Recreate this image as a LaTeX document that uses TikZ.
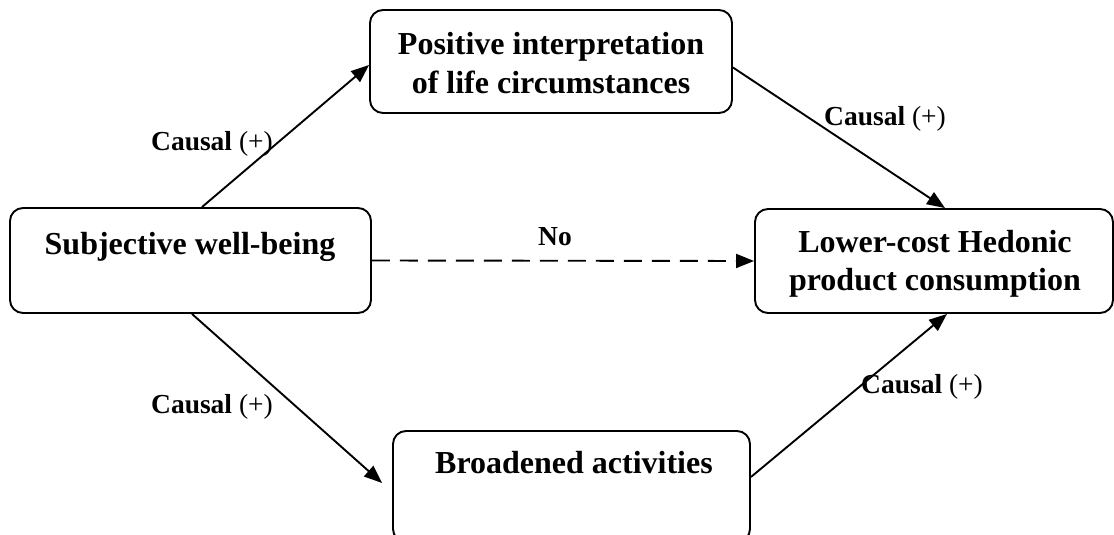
\documentclass[tikz,border=0pt]{standalone}
\usepackage{fontspec}
\setmainfont{Liberation Serif}
\usetikzlibrary{arrows.meta}
\begin{document}
\begin{tikzpicture}[x=1pt,y=-1pt,
  box/.style={draw, line width=1.9pt, rounded corners=13pt, inner sep=0pt},
  btext/.style={font=\fontsize{32}{36}\selectfont\bfseries, anchor=base, inner sep=0pt},
  lbl/.style={font=\fontsize{27.5}{30}\selectfont, anchor=base, inner sep=0pt},
  arr/.style={line width=1.9pt, -{Triangle[length=18pt,width=14pt]}},
  darr/.style={arr, dash pattern=on 18pt off 10pt},
]
\clip (0,0) rectangle (1114,535);
% boxes
\node[box, minimum width=361pt, minimum height=105pt] (L) at (190.5,260.5) {};
\node[box, minimum width=362pt, minimum height=103pt] (T) at (551,61.5) {};
\node[box, minimum width=358pt, minimum height=104pt] (R) at (934,261) {};
\node[box, minimum width=357pt, minimum height=111pt] (B) at (571.5,486.5) {};
% box texts
\node[btext] (Lt) at (190,254) {Subjective well-being};
\node[btext] (Tt1) at (551,55) {Positive interpretation};
\node[btext] (Tt2) at (551,93) {of life circumstances};
\node[btext] (Rt1) at (935,252) {Lower-cost Hedonic};
\node[btext] (Rt2) at (935,290) {product consumption};
\node[btext] (Bt) at (574,473) {Broadened activities};
% connectors
\draw[arr] ([xshift=11.5pt]L.north) -- ([yshift=-3.5pt]T.west);
\draw[arr] ([yshift=-6pt]T.east) -- ([xshift=11pt]R.north);
\draw[darr] (L.east) -- (R.west);
\draw[arr] ([xshift=1.5pt]L.south) -- ([xshift=-10pt,yshift=3.5pt]B.west);
\draw[arr] ([yshift=9.5pt]B.east) -- ([xshift=13pt]R.south);
% labels
\node[lbl] (c1) at (212,150) {\textbf{Causal} (+)};
\node[lbl] (c2) at (885,125) {\textbf{Causal} (+)};
\node[lbl] (no) at (555,245) {\textbf{No}};
\node[lbl] (c3) at (212,413) {\textbf{Causal} (+)};
\node[lbl] (c4) at (922,393) {\textbf{Causal} (+)};
\end{tikzpicture}
\end{document}
